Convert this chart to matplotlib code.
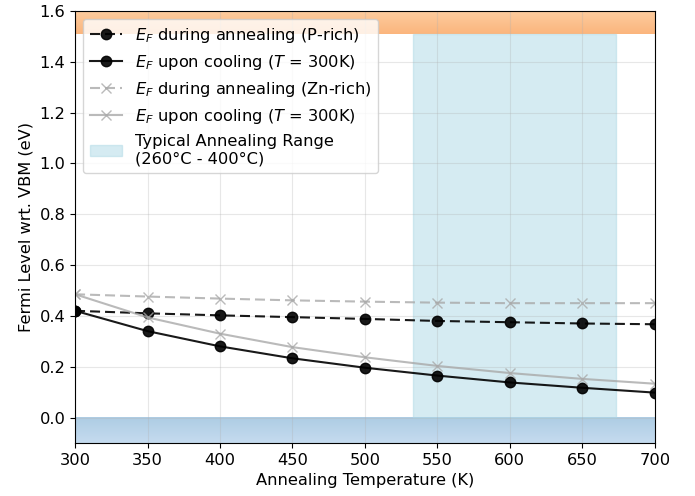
import numpy as np
import matplotlib.pyplot as plt
from matplotlib.colors import LinearSegmentedColormap

# Annealing temperatures (K) and Fermi level positions (eV)
temps = [300, 350, 400, 450, 500, 550, 600, 650, 700]
ef_anneal_p = [0.420, 0.410, 0.402, 0.395, 0.388, 0.380, 0.375, 0.370, 0.367]
ef_cool_p = [0.420, 0.340, 0.280, 0.233, 0.196, 0.165, 0.138, 0.117, 0.098]
ef_anneal_zn = [0.485, 0.476, 0.468, 0.461, 0.456, 0.452, 0.450, 0.450, 0.450]
ef_cool_zn = [0.485, 0.394, 0.330, 0.277, 0.237, 0.203, 0.175, 0.152, 0.133]

anneal_range = (533, 673)  # 260-400 C
cbm_band = (1.51, 1.6)
vbm_band = (-0.1, 0.0)

plt.rcParams['font.size'] = 11.7
fig, ax = plt.subplots(figsize=(6.95, 4.96), dpi=100)
fig.subplots_adjust(left=0.108, right=0.942, top=0.978, bottom=0.107)

# gradient bands for CBM / VBM
grad = np.linspace(0, 1, 64).reshape(-1, 1)
cmap_cb = LinearSegmentedColormap.from_list('cb', ['#fbb57d', '#fdcc9e'])
cmap_vb = LinearSegmentedColormap.from_list('vb', ['#c5dbef', '#aecde4'])
ax.imshow(grad, cmap=cmap_cb, origin='lower', aspect='auto', zorder=0.5,
          extent=(300, 700, cbm_band[0], cbm_band[1]))
ax.imshow(grad, cmap=cmap_vb, origin='lower', aspect='auto', zorder=0.5,
          extent=(300, 700, vbm_band[0], vbm_band[1]))

dash = (4.8, 2.4)
ax.plot(temps, ef_anneal_p, 'o--', color='black', ms=7.5, lw=1.5, alpha=0.9, dashes=dash,
        label=r'$E_F$ during annealing (P-rich)')
ax.plot(temps, ef_cool_p, 'o-', color='black', ms=7.5, lw=1.5, alpha=0.9,
        label=r'$E_F$ upon cooling ($T$ = 300K)')
ax.plot(temps, ef_anneal_zn, 'x--', color='darkgrey', ms=7.5, lw=1.5, alpha=0.8, dashes=dash,
        label=r'$E_F$ during annealing (Zn-rich)')
ax.plot(temps, ef_cool_zn, 'x-', color='darkgrey', ms=7.5, lw=1.5, alpha=0.8,
        label=r'$E_F$ upon cooling ($T$ = 300K)')

ax.fill_betweenx([vbm_band[1], cbm_band[0]], anneal_range[0], anneal_range[1],
                 facecolor='lightblue', edgecolor='lightblue', alpha=0.5, zorder=0.6,
                 label='Typical Annealing Range\n(260°C - 400°C)')

ax.set_xlim(300, 700)
ax.set_ylim(-0.1, 1.6)
ax.grid(True, alpha=0.3)
ax.set_xlabel('Annealing Temperature (K)')
ax.set_ylabel('Fermi Level wrt. VBM (eV)')
ax.legend(loc='upper left')

plt.savefig('out.png', dpi=100)
